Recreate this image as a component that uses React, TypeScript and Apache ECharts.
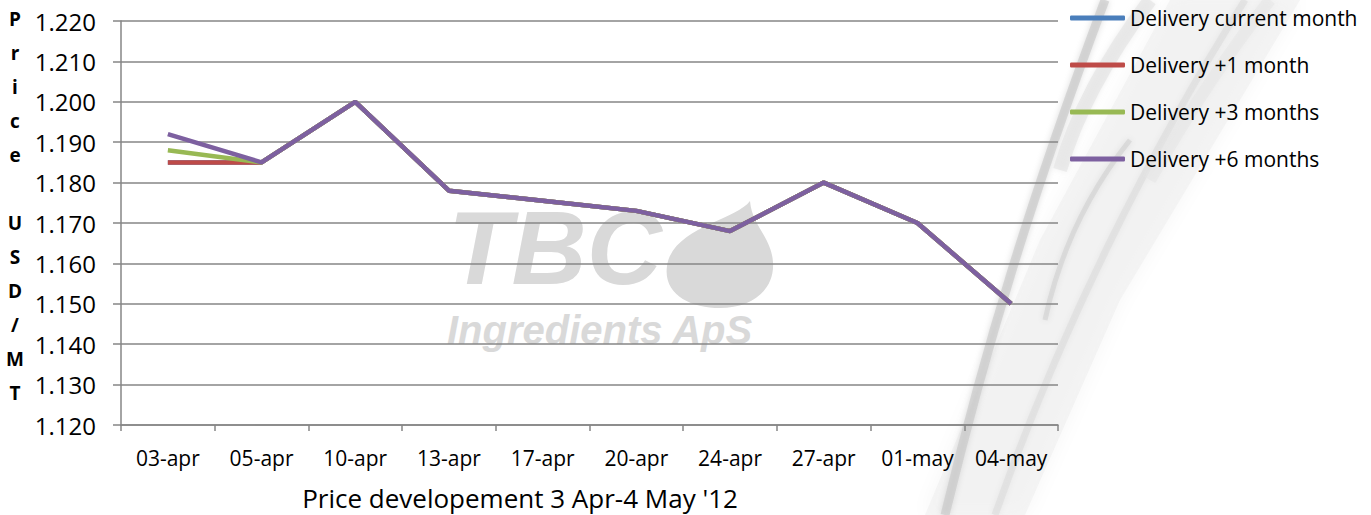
import React, { useEffect, useRef } from "react";
import * as echarts from "echarts";

const categories = ["03-apr", "05-apr", "10-apr", "13-apr", "17-apr", "20-apr", "24-apr", "27-apr", "01-may", "04-may"];
const currentMonth = [1.185, 1.185, 1.2, 1.178, 1.1755, 1.173, 1.168, 1.18, 1.17, 1.15];
const plusOneMonth = [1.185, 1.185, 1.2, 1.178, 1.1755, 1.173, 1.168, 1.18, 1.17, 1.15];
const plusThreeMonths = [1.188, 1.185, 1.2, 1.178, 1.1755, 1.173, 1.168, 1.18, 1.17, 1.15];
const plusSixMonths = [1.192, 1.185, 1.2, 1.178, 1.1755, 1.173, 1.168, 1.18, 1.17, 1.15];
const seriesNames = ["Delivery current month", "Delivery +1 month", "Delivery +3 months", "Delivery +6 months"];
const seriesColors = ["#4A7EBB", "#BE4B48", "#98B954", "#7D60A0"];
const yMin = 1.12;
const yMax = 1.22;
const yInterval = 0.01;
const yTitle = "P\nr\ni\nc\ne\n\nU\nS\nD\n/\nM\nT";
const xTitle = "Price developement 3 Apr-4 May '12";

let registered = false;
function registerShapes() {
  if (registered) return;
  registered = true;
  echarts.graphic.registerShape(
    "tbcdrop",
    echarts.graphic.extendPath(
      "M 750 201 C 736 220 672 228 667 266 C 663 294 690 308 720 308 C 752 308 775 290 773 262 C 771 236 752 226 750 201 Z",
      {}
    )
  );
}

export default function App() {
  const ref = useRef<HTMLDivElement>(null);
  useEffect(() => {
    if (!ref.current) return;
    registerShapes();
    const chart = echarts.init(ref.current, null, { renderer: "svg" });
    const data = [currentMonth, plusOneMonth, plusThreeMonths, plusSixMonths];
    const font = "'Open Sans', sans-serif";
    const soft = (color: string, w: number, op: number) => ({
      stroke: color,
      lineWidth: w,
      fill: "none",
      opacity: op,
      shadowBlur: 6,
      shadowColor: color,
    });
    chart.setOption({
      animation: false,
      backgroundColor: "#ffffff",
      textStyle: { fontFamily: font },
      grid: { left: 121, right: 313, top: 21, bottom: 90, containLabel: false },
      legend: {
        orient: "vertical",
        left: 1070,
        top: 6,
        padding: 0,
        itemWidth: 55,
        itemHeight: 5,
        itemGap: 23,
        icon: "roundRect",
        data: seriesNames,
        textStyle: { fontSize: 21, color: "#000", fontFamily: font, lineHeight: 24, padding: [0, 0, 0, 0] },
      },
      xAxis: {
        type: "category",
        data: categories,
        boundaryGap: true,
        axisLine: { show: true, lineStyle: { color: "#868686", width: 1.5 } },
        axisTick: { show: true, length: 6, lineStyle: { color: "#868686", width: 1.5 } },
        axisLabel: { fontSize: 21, color: "#000", margin: 22, fontFamily: font, interval: 0 },
        splitLine: { show: false },
      },
      yAxis: {
        type: "value",
        min: yMin,
        max: yMax,
        interval: yInterval,
        axisLine: { show: true, lineStyle: { color: "#868686", width: 1.5 } },
        axisTick: { show: true, length: 8, lineStyle: { color: "#868686", width: 1.5 } },
        axisLabel: {
          fontSize: 24,
          color: "#000",
          margin: 25,
          fontFamily: font,
          formatter: (v: number) => v.toFixed(3),
        },
        splitLine: { show: true, lineStyle: { color: "#868686", width: 1.5 } },
      },
      graphic: [
        {
          type: "polygon",
          z: -10,
          silent: true,
          shape: {
            points: [
              [925, 515],
              [1025, 515],
              [1120, 300],
              [1300, 0],
              [1170, 0],
              [1040, 240],
            ],
          },
          style: { fill: "#eeeeee", opacity: 0.5, shadowBlur: 20, shadowColor: "#eeeeee" },
        },
        {
          type: "bezierCurve",
          z: -9,
          silent: true,
          shape: { x1: 945, y1: 515, cpx1: 985, cpy1: 350, cpx2: 1030, cpy2: 200, x2: 1105, y2: 0 },
          style: soft("#c6c6c6", 9, 0.6),
        },
        {
          type: "bezierCurve",
          z: -9,
          silent: true,
          shape: { x1: 995, y1: 515, cpx1: 1060, cpy1: 330, cpx2: 1150, cpy2: 150, x2: 1245, y2: 0 },
          style: soft("#dadada", 7, 0.5),
        },
        {
          type: "bezierCurve",
          z: -9,
          silent: true,
          shape: { x1: 1045, y1: 320, cpx1: 1060, cpy1: 250, cpx2: 1090, cpy2: 190, x2: 1130, y2: 140 },
          style: soft("#cccccc", 5, 0.5),
        },
        {
          type: "bezierCurve",
          z: -9,
          silent: true,
          shape: { x1: 1060, y1: 170, cpx1: 1080, cpy1: 100, cpx2: 1120, cpy2: 40, x2: 1150, y2: 0 },
          style: soft("#e0e0e0", 14, 0.5),
        },
        {
          type: "bezierCurve",
          z: -9,
          silent: true,
          shape: { x1: 1150, y1: 180, cpx1: 1190, cpy1: 110, cpx2: 1230, cpy2: 50, x2: 1270, y2: 0 },
          style: soft("#e6e6e6", 12, 0.5),
        },
        {
          type: "text",
          z: -5,
          silent: true,
          x: 448,
          y: 300,
          style: {
            text: "TBC",
            fill: "#d9d9d9",
            font: "italic bold 104px 'Liberation Sans', Arial, sans-serif",
            textAlign: "left",
            textVerticalAlign: "bottom",
          },
        },
        {
          type: "tbcdrop",
          z: -5,
          silent: true,
          x: 0,
          y: 0,
          style: { fill: "#d9d9d9" },
        },
        {
          type: "text",
          z: -5,
          silent: true,
          x: 447,
          y: 350,
          style: {
            text: "Ingredients ApS",
            fill: "#d9d9d9",
            font: "italic bold 40px 'Liberation Sans', Arial, sans-serif",
            textAlign: "left",
            textVerticalAlign: "bottom",
          },
        },
        {
          type: "text",
          x: 15,
          y: 2,
          style: {
            text: yTitle,
            fill: "#000",
            font: "bold 19px 'Open Sans', sans-serif",
            lineHeight: 34,
            textAlign: "center",
            textVerticalAlign: "top",
          },
        },
        {
          type: "text",
          x: 520,
          y: 498,
          style: {
            text: xTitle,
            fill: "#000",
            font: "26px 'Open Sans', sans-serif",
            textAlign: "center",
            textVerticalAlign: "middle",
          },
        },
      ],
      series: seriesNames.map((name, i) => ({
        name,
        type: "line",
        data: data[i],
        symbol: "none",
        z: 2 + i,
        lineStyle: { color: seriesColors[i], width: 4.5 },
        itemStyle: { color: seriesColors[i] },
      })),
    });
    return () => chart.dispose();
  }, []);
  return <div ref={ref} style={{ width: 1371, height: 515, position: "absolute", left: 0, top: 0 }} />;
}
